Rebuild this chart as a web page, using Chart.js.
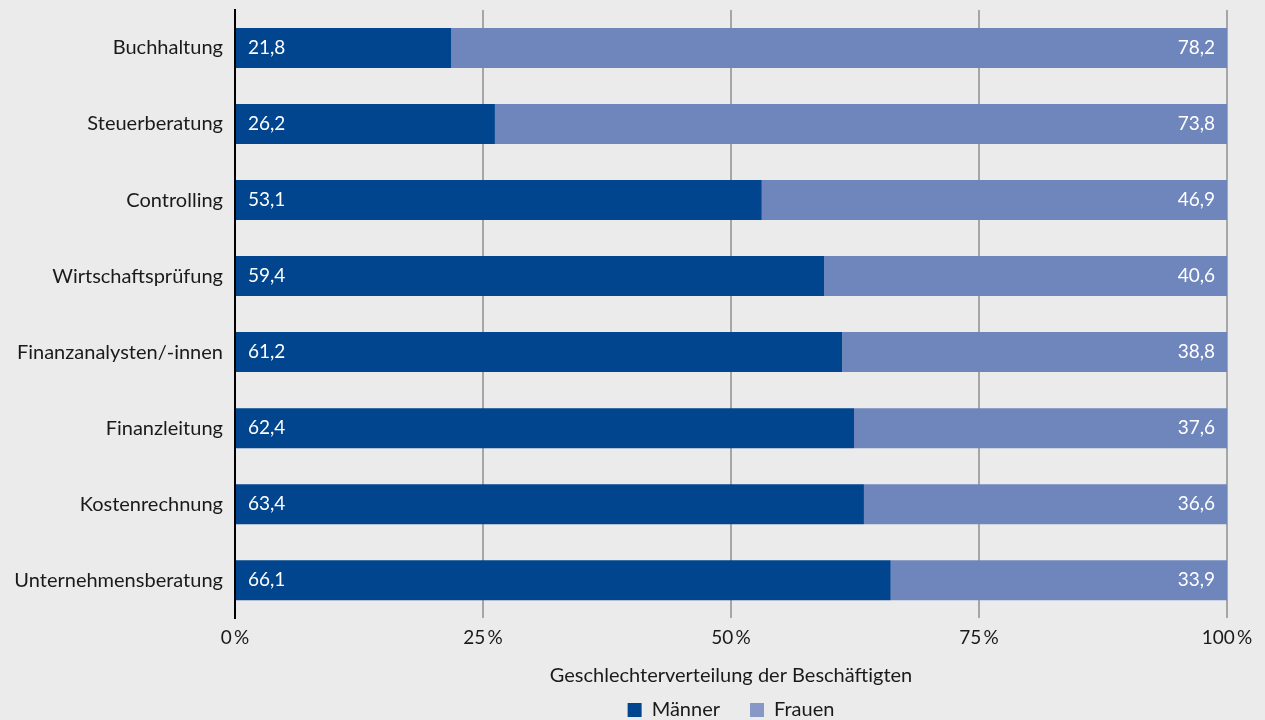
<!DOCTYPE html>
<html>
<head>
<meta charset="utf-8">
<script src="https://cdn.jsdelivr.net/npm/chart.js@4"></script>
<style>
  html, body { margin: 0; padding: 0; background: #ebebeb; }
  #wrap { width: 1265px; height: 720px; }
</style>
</head>
<body>
<div id="wrap"><canvas id="myChart"></canvas></div>
<script>
const categories = ['Buchhaltung', 'Steuerberatung', 'Controlling', 'Wirtschaftsprüfung',
  'Finanzanalysten/-innen', 'Finanzleitung', 'Kostenrechnung', 'Unternehmensberatung'];
const maenner = [21.8, 26.2, 53.1, 59.4, 61.2, 62.4, 63.4, 66.1];
const frauen = [78.2, 73.8, 46.9, 40.6, 38.8, 37.6, 36.6, 33.9];
const xTicks = [0, 25, 50, 75, 100];

const fontFamily = 'Lato, "Open Sans", sans-serif';
const legendColors = ['#00458e', '#8797c6'];

// draws the value inside each bar, Männer left, Frauen right
const barLabels = {
  id: 'barLabels',
  afterDatasetsDraw(chart) {
    const ctx = chart.ctx;
    ctx.save();
    ctx.font = '19px ' + fontFamily;
    ctx.fillStyle = '#ffffff';
    ctx.textBaseline = 'middle';
    chart.data.datasets.forEach((ds, i) => {
      const meta = chart.getDatasetMeta(i);
      meta.data.forEach((bar, j) => {
        const txt = ds.data[j].toFixed(1).replace('.', ',');
        if (i === 0) {
          ctx.textAlign = 'left';
          ctx.fillText(txt, bar.base + 12, bar.y);
        } else {
          ctx.textAlign = 'right';
          ctx.fillText(txt, bar.x - 12, bar.y);
        }
      });
    });
    ctx.restore();
  }
};

function draw_chart() {
  const ctx = document.getElementById('myChart');
  new Chart(ctx, {
    type: 'bar',
    data: {
      labels: categories,
      datasets: [{
        label: 'Männer',
        data: maenner,
        backgroundColor: '#00458e',
        barPercentage: 0.6,
        categoryPercentage: 0.877
      }, {
        label: 'Frauen',
        data: frauen,
        backgroundColor: '#6f86bd',
        barPercentage: 0.6,
        categoryPercentage: 0.877
      }]
    },
    options: {
      indexAxis: 'y',
      responsive: true,
      maintainAspectRatio: false,
      animation: false,
      layout: { padding: { top: 10, right: 38, bottom: -10, left: 0 } },
      plugins: {
        legend: {
          position: 'bottom',
          fullSize: false,
          labels: {
            boxWidth: 14,
            boxHeight: 14,
            padding: 10,
            color: '#1a1a1a',
            font: { family: fontFamily, size: 20 },
            generateLabels: (chart) => {
              const items = Chart.defaults.plugins.legend.labels.generateLabels(chart);
              items.forEach((it, i) => { it.fillStyle = legendColors[i]; it.lineWidth = 0; });
              // extra gap after the first item, like the original legend
              items[0].text = items[0].text + '\u2003\u2009\u2009';
              return items;
            }
          }
        },
        tooltip: { enabled: false }
      },
      scales: {
        x: {
          stacked: true,
          min: 0,
          max: 100,
          afterBuildTicks: (axis) => { axis.ticks = xTicks.map(v => ({ value: v })); },
          ticks: {
            color: '#1a1a1a',
            padding: 8,
            font: { family: fontFamily, size: 19 },
            callback: (v) => v + '\u2009%'
          },
          grid: {
            color: '#a6a6a6',
            lineWidth: 2,
            drawTicks: false
          },
          border: { display: false },
          title: {
            display: true,
            text: 'Geschlechterverteilung der Beschäftigten',
            color: '#1a1a1a',
            font: { family: fontFamily, size: 20 },
            padding: { top: 7, bottom: 2 }
          }
        },
        y: {
          stacked: true,
          afterFit: (axis) => {
            axis.width = 235;
            axis.paddingTop = 0;
            axis.paddingBottom = 0;
          },
          ticks: {
            color: '#1a1a1a',
            padding: 12,
            font: { family: fontFamily, size: 20 }
          },
          grid: { display: false, drawTicks: false },
          border: { display: true, color: '#000000', width: 2 }
        }
      }
    },
    plugins: [barLabels]
  });
}
draw_chart();
</script>
</body>
</html>
